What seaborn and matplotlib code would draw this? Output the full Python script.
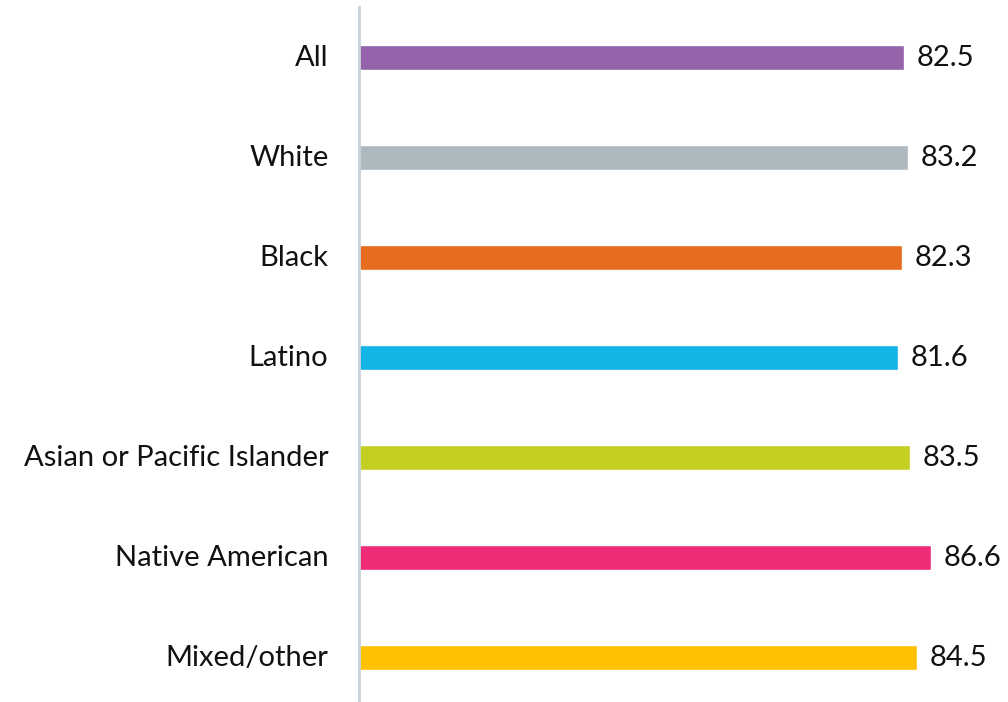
import matplotlib
matplotlib.use("Agg")
import matplotlib.pyplot as plt
import seaborn as sns
import pandas as pd

categories = ["All", "White", "Black", "Latino", "Asian or Pacific Islander",
              "Native American", "Mixed/other"]
values = [82.5, 83.2, 82.3, 81.6, 83.5, 86.6, 84.5]
colors = ["#9563AA", "#ADB8BF", "#E86C1F", "#15B4E7", "#C3CF22", "#EF2C77", "#FFC000"]

sns.set_theme(style="white")
plt.rcParams['font.family'] = ['Lato', 'DejaVu Sans']

df = pd.DataFrame({"cat": categories, "val": values})

fig = plt.figure(figsize=(10.08, 7.02), dpi=100)
ax = fig.add_axes([359/1008, 0, 1 - 359/1008, 1 - 7/702])

sns.barplot(data=df, y="cat", x="val", hue="cat", palette=colors,
            order=categories, hue_order=categories, width=0.255,
            legend=False, ax=ax, saturation=1, orient="h")

ax.set_xlim(0, 98.3)
ax.set_ylim(6.445, -0.505)
ax.set_xlabel("")
ax.set_ylabel("")
ax.set_xticks([])
for s in ["top", "right", "bottom"]:
    ax.spines[s].set_visible(False)
ax.spines["left"].set_color("#C8D2DA")
ax.spines["left"].set_linewidth(2)
ax.tick_params(axis="y", length=0, pad=22, labelsize=21, labelcolor="#111111")
for lbl in ax.get_yticklabels():
    lbl.set_va("center")

for cont in ax.containers:
    ax.bar_label(cont, fmt="%.1f", padding=9, fontsize=21, color="#111111")

fig.savefig("out.png", dpi=100)
